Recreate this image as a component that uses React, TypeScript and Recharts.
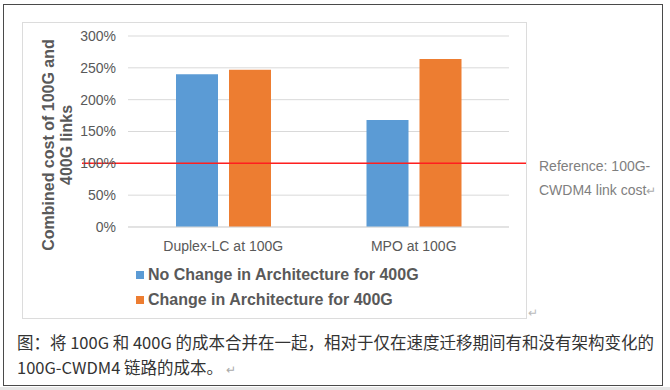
import React from 'react';
import { BarChart, Bar, XAxis, YAxis, CartesianGrid, ReferenceLine, Legend } from 'recharts';

const categories = ['Duplex-LC at 100G', 'MPO at 100G'];
const noChange = [2.4, 1.68];
const withChange = [2.47, 2.64];
const yTicks = [0, 0.5, 1, 1.5, 2, 2.5, 3];
const seriesNames = ['No Change in Architecture for 400G', 'Change in Architecture for 400G'];
const seriesColors = ['#5b9bd5', '#ed7d31'];
const referenceValue = 1;
const referenceLabel = ['Reference: 100G-', 'CWDM4 link cost'];
const yTitle = ['Combined cost of 100G and', '400G links'];
const caption = [
  '图：将 100G 和 400G 的成本合并在一起，相对于仅在速度迁移期间有和没有架构变化的',
  '100G-CWDM4 链路的成本。',
];

const data = categories.map((c, i) => ({ name: c, a: noChange[i], b: withChange[i] }));

const FONT = '"Liberation Sans", Arial, sans-serif';
const RED = '#ff1f1f';

const RefShape = (props: any) => {
  const { x1, x2, y1 } = props;
  if (x1 == null) return null;
  return (
    <line
      x1={x1 - 46}
      x2={x2 + 17}
      y1={y1}
      y2={y1}
      stroke={RED}
      strokeWidth={1.5}
      style={{ stroke: RED }}
    />
  );
};

const LegendContent = () => (
  <div style={{ fontFamily: FONT, fontWeight: 'bold', fontSize: 16, color: '#595959', textAlign: 'left' }}>
    {seriesNames.map((n, i) => (
      <div key={n} style={{ display: 'flex', alignItems: 'center', height: 25 }}>
        <span style={{ display: 'inline-block', width: 8, height: 8, background: seriesColors[i], marginRight: 4 }} />
        <span>{n}</span>
      </div>
    ))}
  </div>
);

export default function App() {
  return (
    <div style={{ position: 'absolute', left: 0, top: 0, width: 670, height: 390, background: '#fff', overflow: 'hidden' }}>
      <div style={{ position: 'absolute', left: 0, top: 387, width: 670, height: 3, background: '#e6e6e6' }} />
      <div style={{ position: 'absolute', left: 3, top: 4, width: 658, height: 380, border: '1.5px solid #4a4a4a' }} />
      <div style={{ position: 'absolute', left: 22, top: 22, width: 503, height: 295, border: '1px solid #dcdcdc' }} />
      <div style={{ position: 'absolute', left: 0, top: 0 }}>
        <BarChart
          width={670}
          height={390}
          data={data}
          margin={{ top: 36, right: 161, bottom: 133, left: 80 }}
          barSize={42}
          barGap={11}
        >
          <CartesianGrid vertical={false} stroke="#d9d9d9" />
          <XAxis
            dataKey="name"
            height={30}
            tickLine={false}
            axisLine={{ stroke: '#d9d9d9' }}
            tickMargin={8}
            interval={0}
            tick={{ fill: '#595959', fontSize: 14, fontFamily: FONT }}
          />
          <YAxis
            width={48}
            domain={[0, 3]}
            ticks={yTicks}
            tickLine={false}
            axisLine={false}
            tickMargin={6}
            tickFormatter={(v: number) => `${Math.round(v * 100)}%`}
            tick={{ fill: '#595959', fontSize: 14, fontFamily: FONT }}
          />
          <Legend
            layout="horizontal"
            align="center"
            verticalAlign="middle"
            content={LegendContent}
            wrapperStyle={{ left: 136, top: 262, width: 330 }}
          />
          <Bar dataKey="a" name={seriesNames[0]} fill={seriesColors[0]} isAnimationActive={false} />
          <Bar dataKey="b" name={seriesNames[1]} fill={seriesColors[1]} isAnimationActive={false} />
          <ReferenceLine y={referenceValue} stroke={RED} shape={RefShape} ifOverflow="visible" />
        </BarChart>
      </div>
      <svg style={{ position: 'absolute', left: 0, top: 0 }} width={100} height={300}>
        <text
          transform="translate(54,145) rotate(-90)"
          textAnchor="middle"
          fontFamily={FONT}
          fontWeight="bold"
          fontSize={16}
          fill="#595959"
        >
          {yTitle[0]}
        </text>
        <text
          transform="translate(72,145) rotate(-90)"
          textAnchor="middle"
          fontFamily={FONT}
          fontWeight="bold"
          fontSize={16}
          fill="#595959"
        >
          {yTitle[1]}
        </text>
      </svg>
      <div style={{ position: 'absolute', left: 539, top: 154, fontFamily: FONT, fontSize: 14, color: '#7f7f7f', lineHeight: '24px' }}>
        <div>{referenceLabel[0]}</div>
        <div>{referenceLabel[1]}<span style={{ color: '#aaa', fontSize: 12 }}>↵</span></div>
      </div>
      <div style={{ position: 'absolute', left: 528, top: 306, color: '#bbb', fontSize: 12, fontFamily: FONT }}>↵</div>
      <div style={{ position: 'absolute', left: 17, top: 330, fontFamily: '"Noto Sans CJK SC", sans-serif', fontSize: 16.5, color: '#333', lineHeight: '25px', whiteSpace: 'nowrap' }}>
        <div>{caption[0]}</div>
        <div>{caption[1]}<span style={{ color: '#aaa', fontSize: 12 }}> ↵</span></div>
      </div>
    </div>
  );
}
